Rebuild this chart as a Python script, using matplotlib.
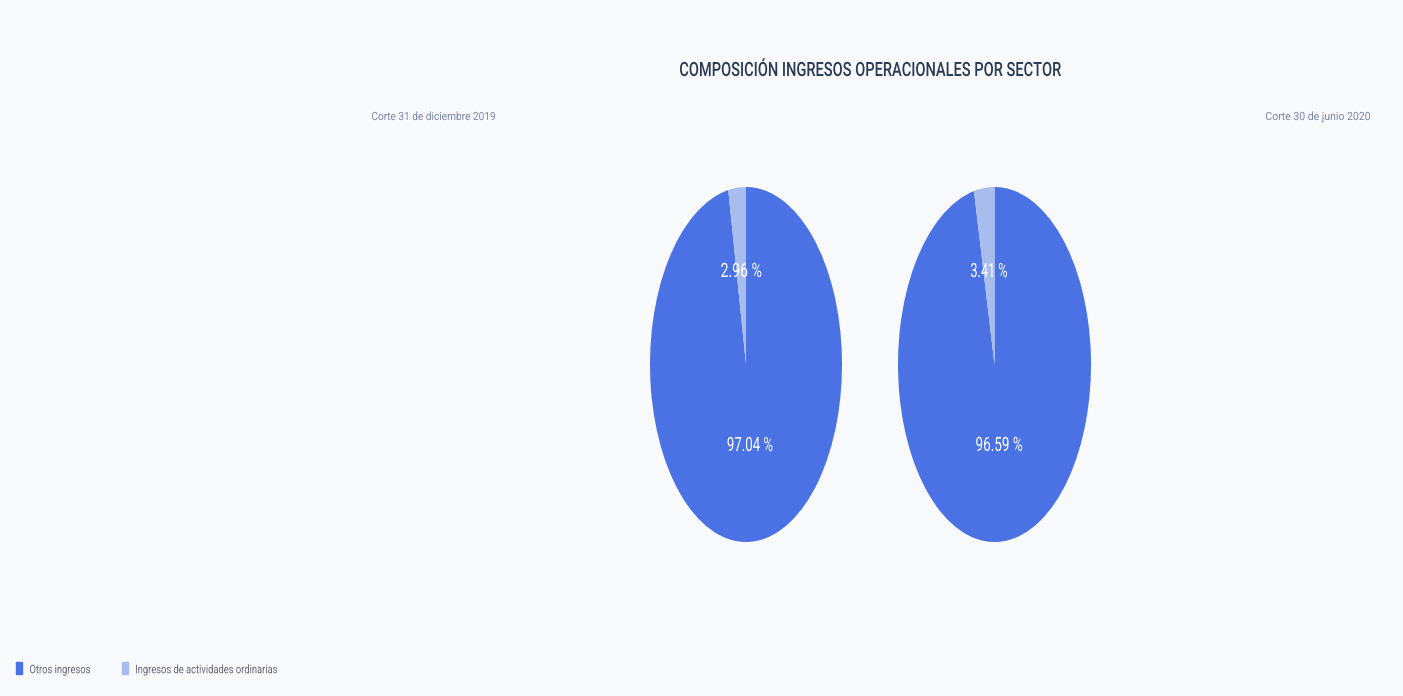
import matplotlib
import matplotlib.pyplot as plt
from matplotlib.patches import Rectangle, PathPatch
from matplotlib.textpath import TextPath
from matplotlib.font_manager import FontProperties
from matplotlib.transforms import Affine2D, IdentityTransform
import numpy as np

matplotlib.use('Agg')

# data
categories = ["Otros ingresos", "Ingresos de actividades ordinarias"]
dic_2019 = [97.04, 2.96]
jun_2020 = [96.59, 3.41]
subtitles = ["Corte 31 de diciembre 2019", "Corte 30 de junio 2020"]
title = "COMPOSICIÓN INGRESOS OPERACIONALES POR SECTOR"

colors = ["#4A72E4", "#A8BCEE"]
bg = "#F8F9FB"
W, H = 1403, 696

fig = plt.figure(figsize=(W / 100, H / 100), dpi=100, facecolor=bg)


def cond_text(s, x0, x1, yc, cap, color, weight="normal", family="Roboto"):
    # condensed text squeezed between x0..x1 (pixels), cap height centred on yc
    fp = FontProperties(family=family, weight=weight)
    ref = TextPath((0, 0), "H", size=100, prop=fp).get_extents()
    size = cap * 100 / ref.height
    tp = TextPath((0, 0), s, size=size, prop=fp)
    ext = tp.get_extents()
    sx = (x1 - x0) / ext.width
    tr = Affine2D().translate(-ext.x0, 0).scale(sx, 1).translate(x0, H - yc - cap / 2)
    patch = PathPatch(tr.transform_path(tp), facecolor=color, edgecolor="none",
                      transform=IdentityTransform())
    fig.add_artist(patch)


def px_axes(x0, y0, x1, y1):
    # pixel box (top-left origin) -> figure axes
    return fig.add_axes([x0 / W, 1 - y1 / H, (x1 - x0) / W, (y1 - y0) / H])


def draw_pie(ax, values, label_boxes):
    wedges, texts = ax.pie(values, colors=colors, startangle=90, counterclock=False,
                           radius=1.0, wedgeprops=dict(linewidth=0))
    ax.set_aspect('auto')
    ax.set_xlim(-1, 1)
    ax.set_ylim(-1, 1)
    ax.axis('off')
    bb = ax.get_position()
    cx = (bb.x0 + bb.x1) / 2 * W
    cy = (1 - (bb.y0 + bb.y1) / 2) * H
    hw = bb.width * W / 2
    hh = bb.height * H / 2
    label_r = [0.45, 0.535]
    for w, v, r, wid in zip(wedges, values, label_r, label_boxes):
        ang = np.deg2rad((w.theta1 + w.theta2) / 2)
        lx = cx + r * np.cos(ang) * hw
        ly = cy - r * np.sin(ang) * hh
        cond_text(f"{v:.2f} %", lx - wid / 2, lx + wid / 2, ly, 14, "white")


ax1 = px_axes(650, 187, 842, 542)
draw_pie(ax1, dic_2019, [45, 40])
ax2 = px_axes(898, 187, 1091, 542)
draw_pie(ax2, jun_2020, [46, 36])

cond_text(title, 680, 1061, 69, 14, "#2B3A55", weight="medium")
cond_text(subtitles[0], 372, 495, 116, 8, "#7C88AC")
cond_text(subtitles[1], 1266, 1370, 116, 8, "#7C88AC")

# legend
leg_x = [16, 122]
leg_w = [60, 141]
for x, c, name, tw in zip(leg_x, colors, categories, leg_w):
    fig.patches.append(Rectangle((x / W, 1 - 674 / H), 6 / W, 12 / H, color=c,
                                 transform=fig.transFigure))
    cond_text(name, x + 14, x + 14 + tw, 669, 8.5, "#666B75")

fig.savefig("out.png", dpi=100, facecolor=bg)
